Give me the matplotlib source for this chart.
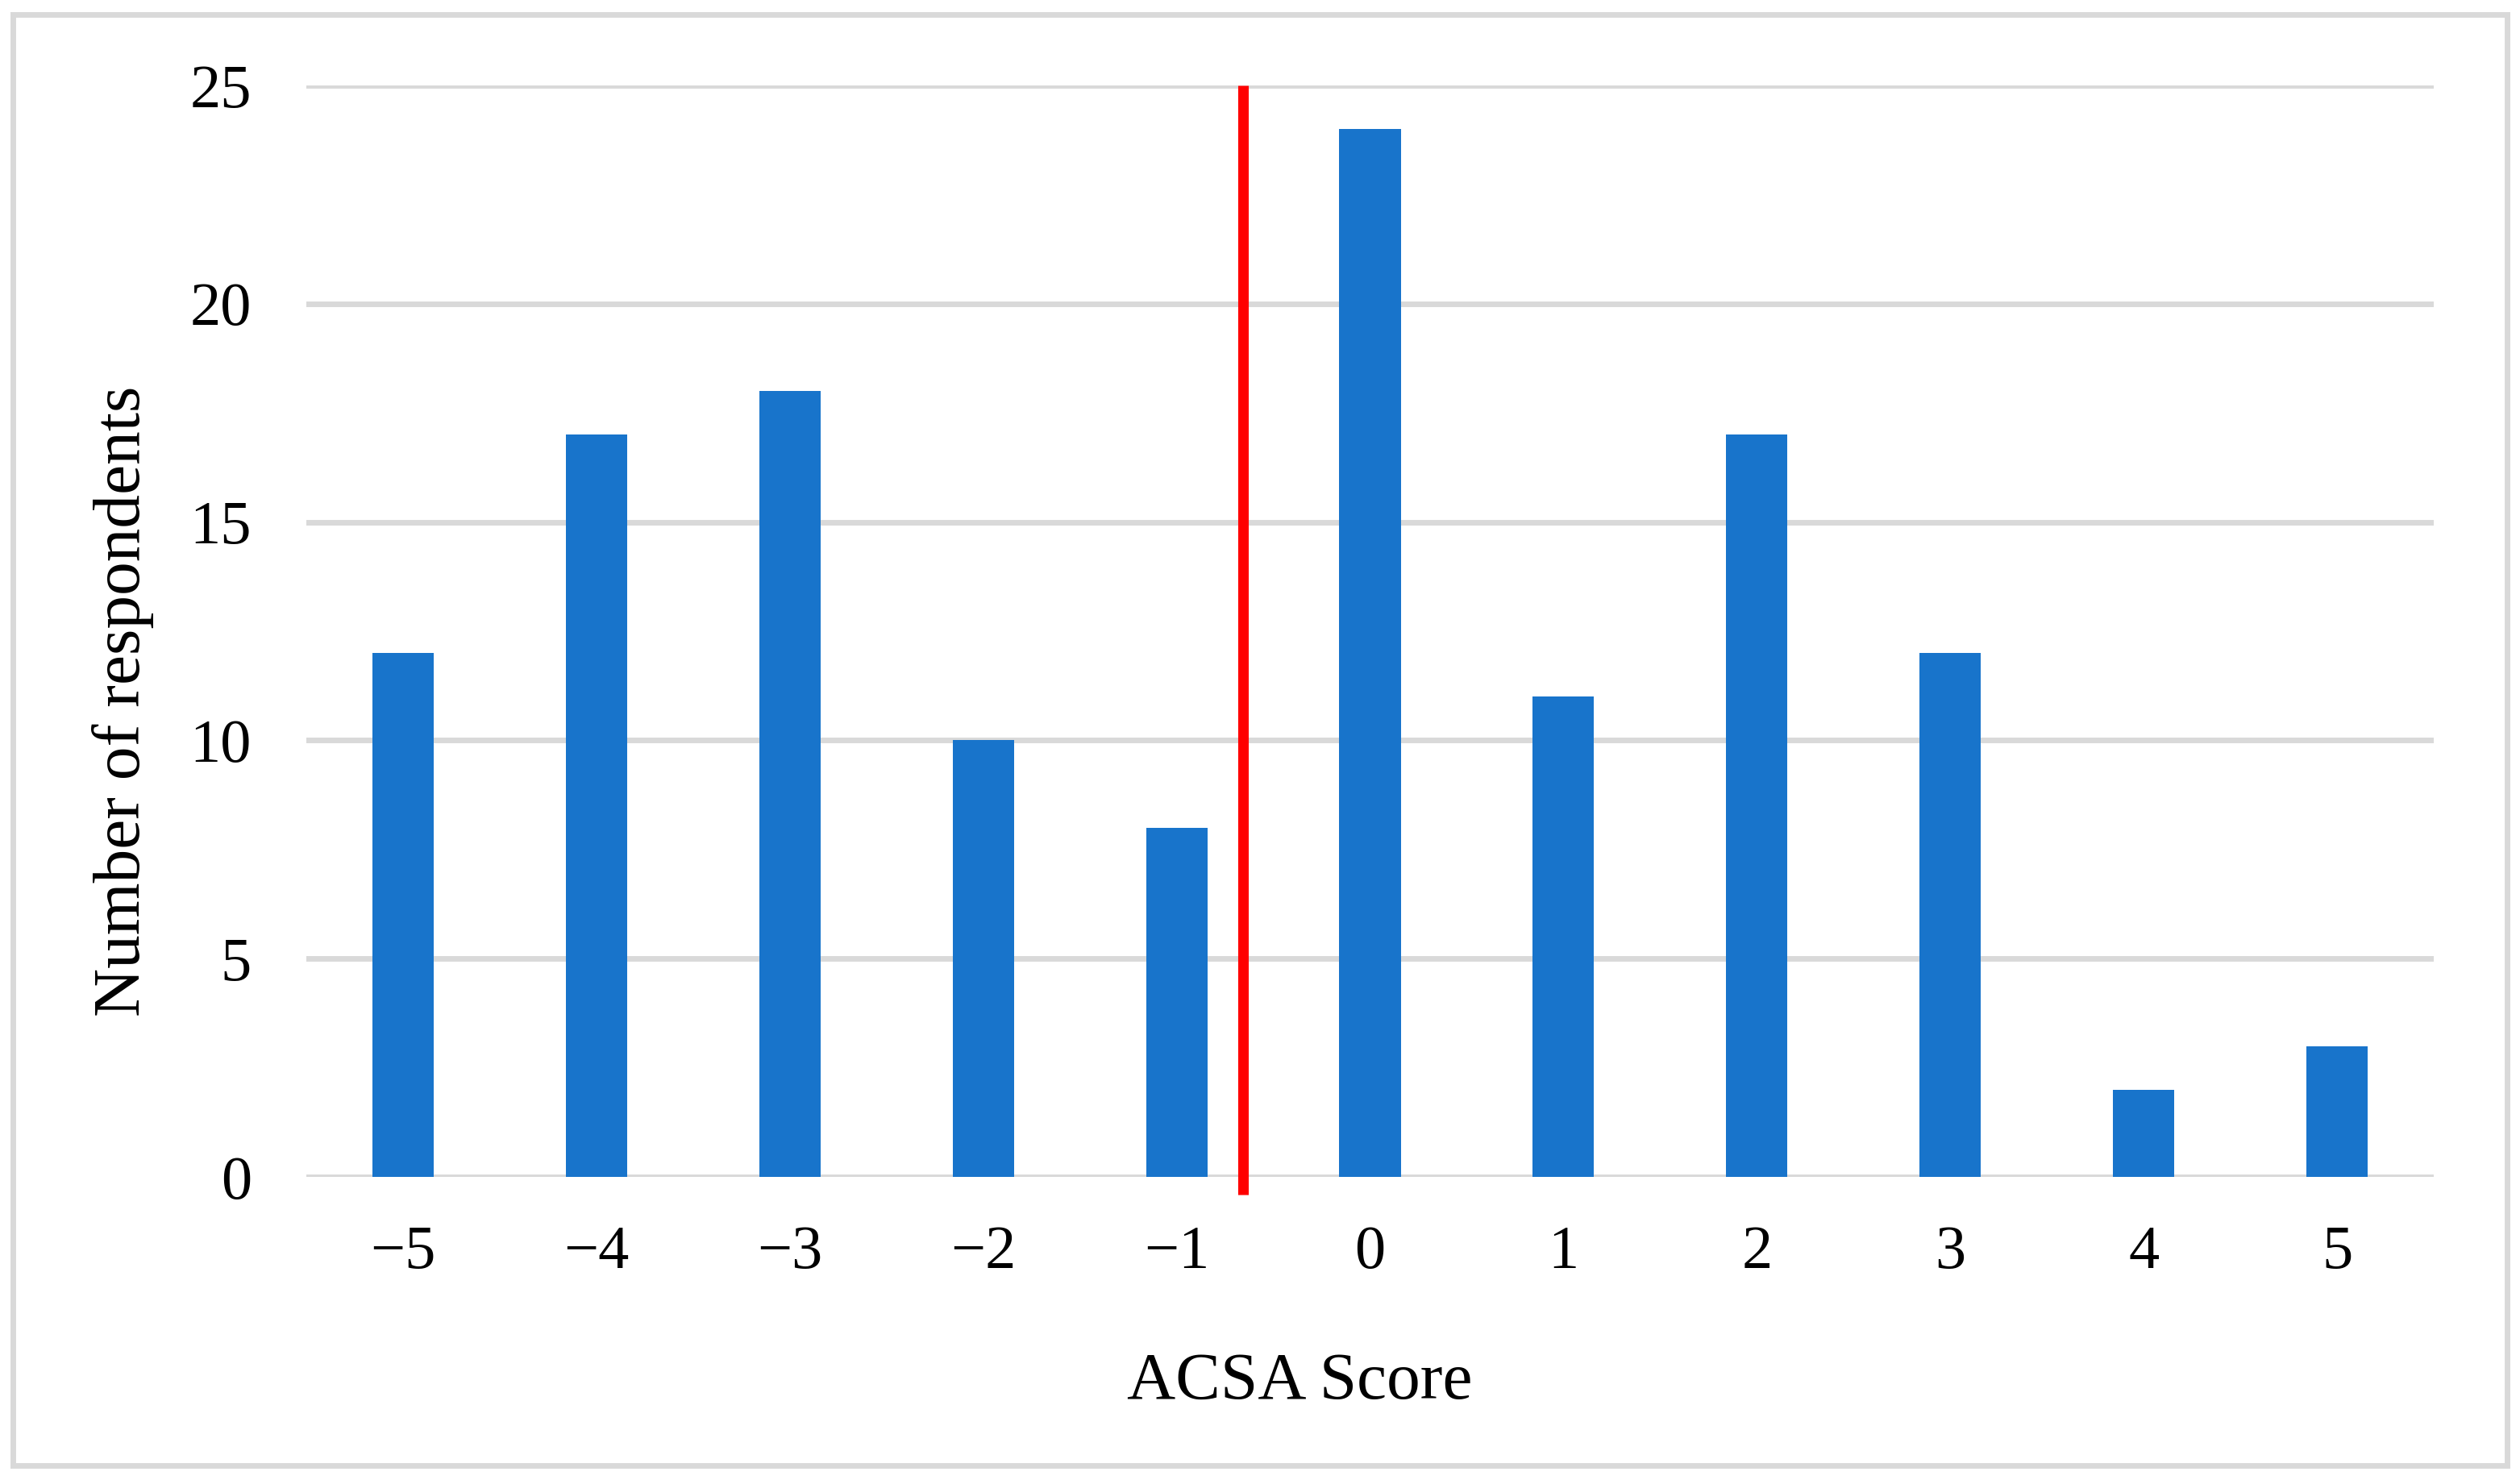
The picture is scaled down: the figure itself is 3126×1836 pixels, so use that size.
import matplotlib
matplotlib.use("Agg")
import matplotlib.pyplot as plt
from matplotlib.patches import Rectangle

scores = [-5, -4, -3, -2, -1, 0, 1, 2, 3, 4, 5]
counts = [12, 17, 18, 10, 8, 24, 11, 17, 12, 2, 3]
tick_labels = ["\u22125", "\u22124", "\u22123", "\u22122", "\u22121", "0", "1", "2", "3", "4", "5"]
y_ticks = [0, 5, 10, 15, 20, 25]
cutoff = -0.657

plt.rcParams['font.family'] = ['Liberation Serif', 'DejaVu Serif']

W, H = 3126, 1836
fig = plt.figure(figsize=(W / 100, H / 100), dpi=100)
fig.patch.set_facecolor("white")

# outer frame
fig.patches.append(Rectangle((16 / W, 1 - 1818 / H), (3110 - 16) / W, (1818 - 18) / H,
                             transform=fig.transFigure, fill=False,
                             edgecolor="#D9D9D9", linewidth=5))

ax = fig.add_axes([380 / W, 1 - 1460 / H, (3019 - 380) / W, (1460 - 106) / H])
ax.bar(scores, counts, width=0.317, color="#1874CB", zorder=3)
ax.set_xlim(-5.5, 5.5)
ax.set_ylim(0, 25)
ax.set_yticks(y_ticks)
ax.set_xticks(scores)
ax.set_xticklabels(tick_labels)
for s in ax.spines.values():
    s.set_visible(False)
ax.tick_params(axis="both", length=0, labelsize=55)
ax.tick_params(axis="x", pad=43)
ax.tick_params(axis="y", pad=49)
ax.grid(axis="y", color="#D9D9D9", linewidth=5, zorder=0)
ax.set_axisbelow(True)

ax.plot([cutoff, cutoff], [25, -0.41], color="#FF0000", linewidth=9.4,
        solid_capstyle="butt", clip_on=False, zorder=4)

fig.text(1612 / W, 1 - 1715 / H, "ACSA Score", ha="center", va="center", fontsize=60)
fig.text(153 / W, 1 - 870 / H, "Number of respondents", ha="center", va="center",
         rotation=90, fontsize=60)

fig.savefig("out.png", dpi=100, facecolor="white")
